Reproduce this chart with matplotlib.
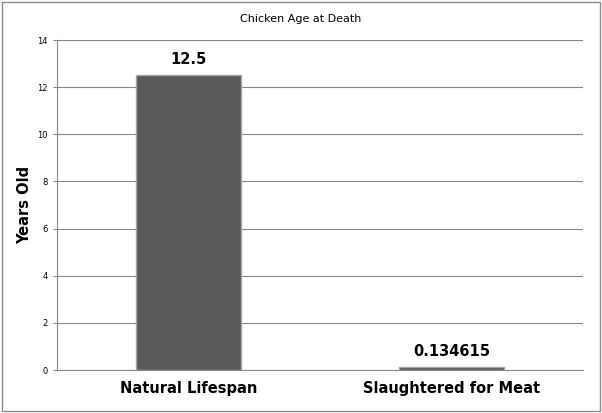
import matplotlib
matplotlib.use("Agg")
import matplotlib.pyplot as plt
from matplotlib.patches import Rectangle

categories = ["Natural Lifespan", "Slaughtered for Meat"]
values = [12.5, 0.134615]
labels = ["12.5", "0.134615"]
yticks = [0, 2, 4, 6, 8, 10, 12, 14]

fig = plt.figure(figsize=(6.02, 4.13), dpi=100)
fig.patches.append(Rectangle((0.004, 0.004), 0.992, 0.992, transform=fig.transFigure,
                             fill=False, edgecolor="#8c8c8c", linewidth=1))
ax = fig.add_axes([0.0947, 0.104, 0.8733, 0.799])
x = range(len(categories))
ax.bar(x, values, width=0.4, color="#595959", edgecolor="#a6a6a6", linewidth=1, zorder=3)
for xi, v, l in zip(x, values, labels):
    ax.text(xi, v + 0.35, l, ha="center", va="bottom", fontsize=10.5, fontweight="bold", family="DejaVu Sans")
ax.set_xlim(-0.5, 1.5)
ax.set_ylim(0, 14)
ax.set_yticks(yticks)
ax.set_yticklabels([str(t) for t in yticks], fontsize=6)
ax.set_xticks(list(x))
ax.set_xticklabels(categories, fontsize=10.5, fontweight="bold")
ax.tick_params(axis="x", length=0, pad=8)
ax.tick_params(axis="y", length=3, color="#888888")
ax.grid(axis="y", color="#888888", linewidth=0.8, zorder=0)
for s in ["top", "right"]:
    ax.spines[s].set_visible(False)
ax.spines["left"].set_color("#888888")
ax.spines["bottom"].set_color("#888888")
ax.set_ylabel("Years Old", fontsize=10.5, fontweight="bold")
fig.text(0.5, 0.955, "Chicken Age at Death", ha="center", va="center", fontsize=8)
fig.savefig("out.png", dpi=100)
